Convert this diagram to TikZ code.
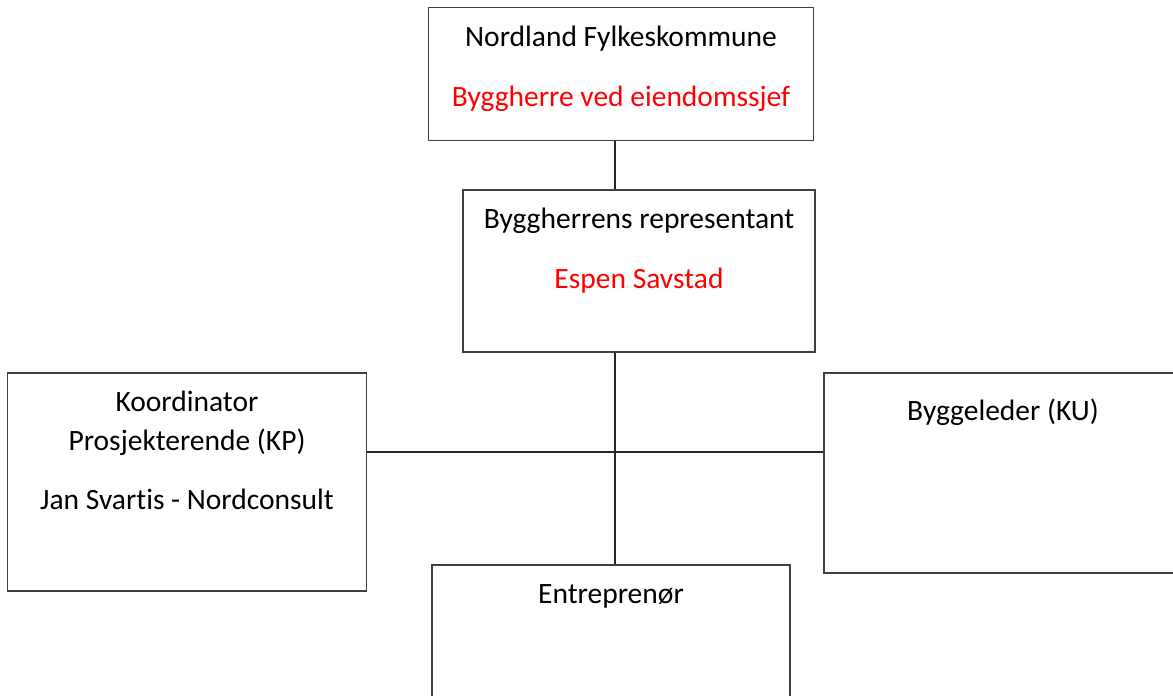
\documentclass[tikz,border=0pt]{standalone}
\usepackage{fontspec}
\setmainfont{Carlito}[Ligatures={NoCommon}]
\definecolor{redtxt}{HTML}{FF0000}
\definecolor{linec}{HTML}{404040}
\tikzset{
  boxn/.style={draw=linec, line width=1.2pt, rectangle, inner sep=0pt},
  txt/.style={anchor=base, inner sep=0pt, font=\fontsize{29.5}{34}\selectfont},
  rtxt/.style={txt, text=redtxt},
  conn/.style={draw=black!85, line width=1.1pt}
}
\begin{document}
\begin{tikzpicture}[x=1pt,y=-1pt]
\useasboundingbox (0,0) rectangle (1173,696);
\clip (0,0) rectangle (1173,696);
\fill[white] (0,0) rectangle (1173,696);
% boxes
\node[boxn, minimum width=385pt, minimum height=133pt] (top) at (621,74) {};
\node[boxn, minimum width=352pt, minimum height=162pt] (mid) at (639,271) {};
\node[boxn, minimum width=359pt, minimum height=218pt] (left) at (187,482) {};
\node[boxn, minimum width=354pt, minimum height=200pt] (right) at (1001,473) {};
\node[boxn, minimum width=358pt, minimum height=160pt] (bot) at (611,645) {};
% texts
\node[txt]  (t1) at (621,46) {Nordland Fylkeskommune};
\node[rtxt] (t2) at (621,106) {Byggherre ved eiendomssjef};
\node[txt]  (t3) at (639,228) {Byggherrens representant};
\node[rtxt] (t4) at (639,288) {Espen Savstad};
\node[txt]  (t5) at (187,411) {Koordinator};
\node[txt]  (t6) at (187,450) {Prosjekterende (KP)};
\node[txt]  (t7) at (187,509) {Jan Svartis - Nordconsult};
\node[txt]  (t8) at (1003,420) {Byggeleder (KU)};
\node[txt]  (t9) at (611,603) {Entreprenør};
% connectors
\coordinate (jn) at (615,452);
\draw[conn] (top.south -| jn) -- (mid.north -| jn);
\draw[conn] (mid.south -| jn) -- (bot.north -| jn);
\draw[conn] (left.east |- jn) -- (right.west |- jn);
\end{tikzpicture}
\end{document}
